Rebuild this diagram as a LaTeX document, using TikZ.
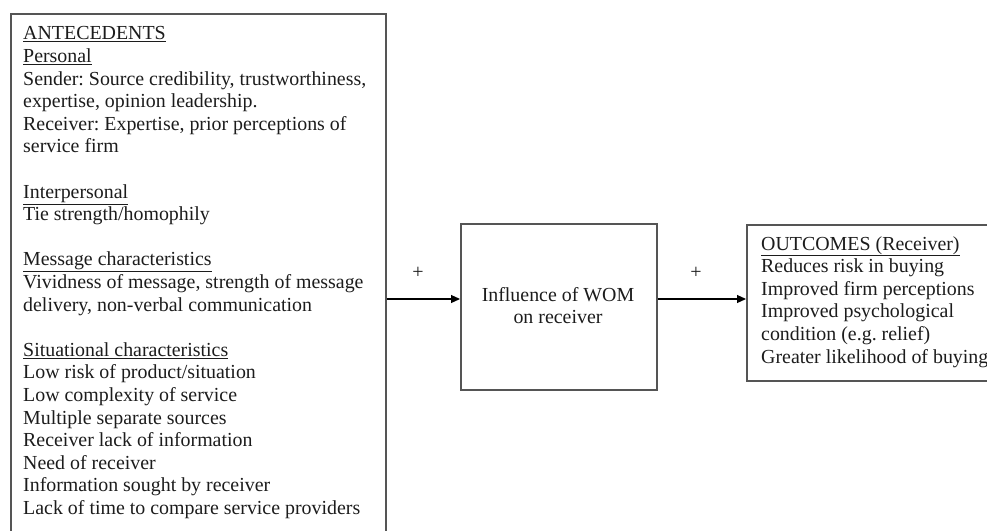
\documentclass[tikz,border=0pt]{standalone}
\usepackage{fontspec}
\setmainfont{Liberation Serif}
\usetikzlibrary{arrows.meta}
\definecolor{boxgray}{HTML}{555555}
\definecolor{ink}{HTML}{1C1C1C}
\frenchspacing
\begin{document}
\begin{tikzpicture}[x=1pt,y=-1pt,
  frame/.style={draw=boxgray, line width=1.5pt, rectangle, inner sep=0pt, anchor=north west},
  body/.style={anchor=north west, align=left, inner sep=0pt, text=ink,
    font=\fontsize{19.9}{22.6}\selectfont\frenchspacing},
  link/.style={draw=black, line width=1.1pt, -{Triangle[length=9pt,width=8pt]}},
  sign/.style={inner sep=0pt, text=ink, font=\fontsize{20}{20}\selectfont}]
\useasboundingbox (0,0) rectangle (987,530);
\clip (0,0) rectangle (987,530);

% boxes
\node[frame, minimum width=375pt, minimum height=535pt] (ante) at (10,13) {};
\node[frame, minimum width=196pt, minimum height=166pt] (wom) at (460,223) {};
\node[frame, minimum width=300pt, minimum height=156pt] (out) at (746,224) {};

% box texts
\node[body] (antetext) at (23,26.5) {\underline{ANTECEDENTS}\\
\underline{Personal}\\
Sender: Source credibility, trustworthiness,\\
expertise, opinion leadership.\\
Receiver: Expertise, prior perceptions of\\
service firm\\
\mbox{}\\
\underline{Interpersonal}\\
Tie strength/homophily\\
\mbox{}\\
\underline{Message characteristics}\\
Vividness of message, strength of message\\
delivery, non-verbal communication\\
\mbox{}\\
\underline{Situational characteristics}\\
Low risk of product/situation\\
Low complexity of service\\
Multiple separate sources\\
Receiver lack of information\\
Need of receiver\\
Information sought by receiver\\
Lack of time to compare service providers};

\node[align=center, inner sep=0pt, text=ink, font=\fontsize{19.9}{22}\selectfont]
  (womtext) at (558,306) {Influence of WOM\\on receiver};

\node[body] (outtext) at (761,236) {\underline{OUTCOMES (Receiver)}\\
Reduces risk in buying\\
Improved firm perceptions\\
Improved psychological\\
condition (e.g. relief)\\
Greater likelihood of buying};

% connectors
\coordinate (lvl) at (0,299);
\draw[link] (ante.east |- lvl) -- (wom.west |- lvl);
\draw[link] (wom.east |- lvl) -- (out.west |- lvl);
\node[sign] (plusa) at (418,273) {+};
\node[sign] (plusb) at (696,273) {+};
\end{tikzpicture}
\end{document}
